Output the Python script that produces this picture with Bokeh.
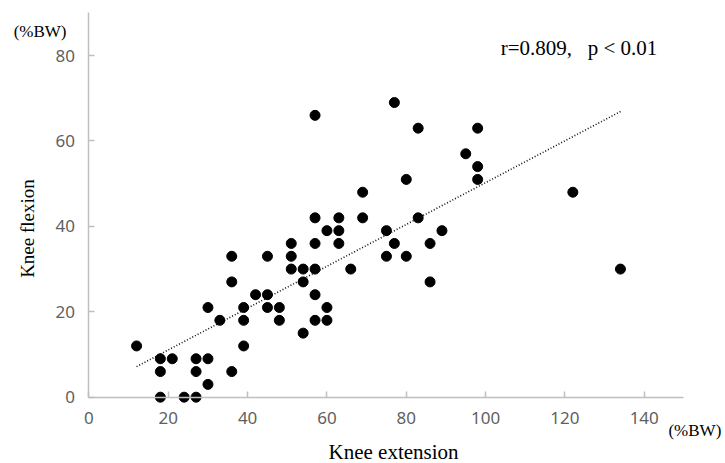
import numpy as np
from bokeh.plotting import figure
from bokeh.models import Range1d, FixedTicker, Label
from bokeh.embed import file_html
from bokeh.resources import INLINE

# Data, %BW
knee_extension = [12, 18, 21, 18, 18, 24, 27, 27, 30, 27, 30, 36, 39, 39, 39, 33,
                  30, 36, 42, 36, 45, 45, 48, 48, 45, 51, 51, 51, 54, 54, 57, 57,
                  57, 57, 57, 60, 60, 60, 63, 63, 63, 66, 69, 69, 54, 77, 83, 98,
                  95, 98, 98, 80, 83, 75, 89, 77, 86, 75, 80, 86, 122, 134, 57]
knee_flexion = [12, 9, 9, 6, 0, 0, 0, 9, 9, 6, 3, 6, 12, 18, 21, 18,
                21, 27, 24, 33, 24, 21, 21, 18, 33, 36, 33, 30, 30, 27, 30, 36,
                42, 24, 18, 21, 18, 39, 42, 39, 36, 30, 48, 42, 15, 69, 63, 63,
                57, 54, 51, 51, 42, 39, 39, 36, 36, 33, 33, 27, 48, 30, 66]
x_ticks = [0, 20, 40, 60, 80, 100, 120, 140]
y_ticks = [0, 20, 40, 60, 80]
x_axis_bounds = (0, 150)
y_axis_bounds = (0, 90)
stat_text = "r=0.809,\u00a0\u00a0 p < 0.01"

p = figure(width=725, height=463, output_backend="svg", toolbar_location=None,
           x_range=Range1d(-22.31, 160.49), y_range=Range1d(-15.53, 92.9),
           min_border=0)
p.title.visible = False
p.outline_line_color = None
p.xgrid.visible = False
p.ygrid.visible = False
p.background_fill_color = "white"

for ax, ticks, bounds, standoff in ((p.xaxis[0], x_ticks, x_axis_bounds, 15),
                                    (p.yaxis[0], y_ticks, y_axis_bounds, 14)):
    ax.fixed_location = 0
    ax.bounds = bounds
    ax.ticker = FixedTicker(ticks=ticks)
    ax.minor_tick_line_color = None
    ax.major_tick_in = 6
    ax.major_tick_out = 0
    ax.axis_line_color = "#bfbfbf"
    ax.axis_line_width = 1.5
    ax.major_tick_line_color = "#bfbfbf"
    ax.major_tick_line_width = 1.5
    ax.major_label_text_font = "Noto Sans"
    ax.major_label_text_font_size = "17px"
    ax.major_label_text_color = "#5f5f5f"
    ax.major_label_standoff = standoff

# Trend line (least squares on the data)
xs = np.array(knee_extension, dtype=float)
ys = np.array(knee_flexion, dtype=float)
slope, intercept = np.polyfit(xs, ys, 1)
tx = np.array([xs.min(), xs.max()])
p.line(tx, slope * tx + intercept, line_color="#111111", line_width=1.6,
       line_dash="1 2")

p.scatter(knee_extension, knee_flexion, size=10, color="black")

serif = "Liberation Serif"
p.add_layout(Label(x=76.8, y=-12.8, text="Knee extension", text_font=serif,
                   text_font_size="21px", text_align="center",
                   text_baseline="alphabetic", text_color="black"))
p.add_layout(Label(x=-15.6, y=39.5, text="Knee flexion", text_font=serif,
                   text_font_size="19px", text_align="center", angle=np.pi / 2,
                   text_baseline="alphabetic", text_color="black"))
p.add_layout(Label(x=-19.0, y=85.6, text="(%BW)", text_font=serif,
                   text_font_size="17px", text_align="left",
                   text_baseline="alphabetic", text_color="black"))
p.add_layout(Label(x=146.1, y=-7.8, text="(%BW)", text_font=serif,
                   text_font_size="17px", text_align="left",
                   text_baseline="alphabetic", text_color="black"))
p.add_layout(Label(x=103.8, y=81.7, text=stat_text, text_font=serif,
                   text_font_size="21px", text_align="left",
                   text_baseline="alphabetic", text_color="black"))

open("out.html", "w").write(file_html(p, INLINE))
